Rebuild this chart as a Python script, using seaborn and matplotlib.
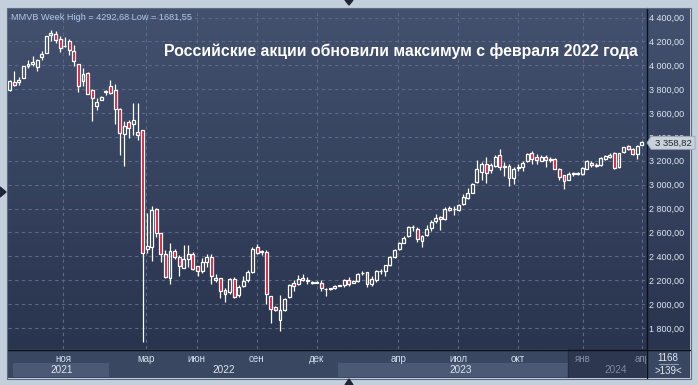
import numpy as np
import pandas as pd
import matplotlib
matplotlib.use('Agg')
import matplotlib.pyplot as plt
from matplotlib.patches import Polygon, Rectangle
from matplotlib.lines import Line2D
from matplotlib.colors import LinearSegmentedColormap
import seaborn as sns

# Weekly MMVB candles (oldest first)
opens = [3793, 3863, 3858, 3897, 3992, 4015, 3987, 4071, 4105, 4256,
         4262, 4217, 4160, 4200, 4121, 4009, 3869, 3939, 3796, 3661,
         3712, 3780, 3830, 3796, 3636, 3426, 3527, 3510, 3443, 3455,
         2463, 2479, 2794, 2592, 2423, 2216, 2446, 2390, 2305, 2381,
         2423, 2317, 2277, 2356, 2390, 2204, 2216, 2120, 2098, 2210,
         2075, 2148, 2199, 2272, 2474, 2443, 2434, 2070, 1977, 1864,
         1949, 2056, 2174, 2169, 2220, 2191, 2180, 2183, 2180, 2126,
         2126, 2135, 2155, 2158, 2203, 2180, 2191, 2256, 2265, 2169,
         2197, 2274, 2276, 2327, 2394, 2462, 2515, 2566, 2641, 2630,
         2532, 2582, 2633, 2692, 2729, 2712, 2802, 2794, 2791, 2839,
         2890, 2932, 3022, 3110, 3177, 3124, 3158, 3248, 3149, 3158,
         3059, 3141, 3145, 3196, 3268, 3229, 3201, 3235, 3210, 3218,
         3134, 3078, 3042, 3090, 3092, 3092, 3134, 3184, 3160, 3162,
         3218, 3232, 3262, 3148, 3272, 3324, 3296, 3260, 3336]
highs = [3880, 3948, 3906, 3995, 4043, 4082, 4049, 4116, 4248, 4292.68,
         4285, 4245, 4239, 4222, 4166, 4015, 3981, 3942, 3799, 3723,
         3740, 3790, 3880, 3841, 3640, 3532, 3538, 3687, 3687, 3460,
         2760, 2822, 2802, 2592, 2451, 2513, 2465, 2409, 2493, 2493,
         2434, 2320, 2384, 2423, 2423, 2255, 2216, 2137, 2216, 2227,
         2157, 2233, 2289, 2474, 2499, 2451, 2451, 2070, 1980, 2079,
         2050, 2169, 2197, 2239, 2253, 2225, 2191, 2191, 2197, 2135,
         2138, 2158, 2163, 2211, 2225, 2197, 2259, 2276, 2270, 2231,
         2287, 2296, 2324, 2400, 2458, 2520, 2571, 2656, 2664, 2644,
         2580, 2664, 2707, 2757, 2740, 2814, 2825, 2819, 2842, 2918,
         2974, 3011, 3208, 3186, 3228, 3180, 3248, 3299, 3186, 3172,
         3144, 3172, 3196, 3263, 3280, 3260, 3246, 3246, 3229, 3224,
         3140, 3078, 3106, 3106, 3103, 3148, 3204, 3196, 3184, 3229,
         3246, 3268, 3270, 3268, 3319, 3330, 3308, 3330, 3362]
lows = [3785, 3826, 3833, 3892, 3981, 3998, 3953, 4043, 4099, 4206,
        4189, 4110, 4155, 4088, 3992, 3776, 3827, 3757, 3532, 3622,
        3709, 3751, 3757, 3504, 3252, 3154, 3392, 3420, 3370, 1681.55,
        2430, 2362, 2558, 2350, 2221, 2171, 2373, 2238, 2305, 2311,
        2283, 2238, 2261, 2311, 2165, 2185, 2053, 2017, 2087, 2053,
        2059, 2143, 2188, 2261, 2418, 2409, 2003, 1840, 1943, 1774,
        1943, 2050, 2112, 2163, 2191, 2169, 2169, 2174, 2107, 2067,
        2120, 2126, 2150, 2141, 2155, 2174, 2183, 2242, 2141, 2155,
        2183, 2253, 2231, 2321, 2388, 2455, 2510, 2560, 2608, 2523,
        2481, 2571, 2608, 2678, 2622, 2706, 2777, 2746, 2780, 2833,
        2881, 2926, 3017, 3039, 3017, 3101, 3152, 3124, 3073, 2988,
        3008, 3115, 3114, 3190, 3176, 3176, 3196, 3148, 3190, 3134,
        3036, 2960, 3036, 3072, 3081, 3078, 3128, 3148, 3145, 3156,
        3210, 3224, 3134, 3140, 3263, 3290, 3246, 3218, 3330]
closes = [3869, 3838, 3875, 3992, 4015, 4026, 4043, 4093, 4245, 4273,
          4211, 4144, 4165, 4127, 4032, 3827, 3925, 3762, 3723, 3695,
          3737, 3784, 3768, 3631, 3434, 3490, 3476, 3544, 3415, 2430,
          2485, 2788, 2592, 2423, 2227, 2446, 2390, 2322, 2373, 2418,
          2294, 2277, 2350, 2390, 2233, 2221, 2109, 2087, 2210, 2059,
          2143, 2193, 2266, 2465, 2429, 2437, 2087, 1960, 1949, 1949,
          2042, 2163, 2152, 2211, 2203, 2203, 2186, 2178, 2135, 2129,
          2135, 2155, 2158, 2197, 2169, 2191, 2248, 2259, 2169, 2211,
          2276, 2278, 2324, 2394, 2451, 2513, 2554, 2644, 2647, 2543,
          2566, 2627, 2687, 2718, 2715, 2797, 2791, 2797, 2831, 2898,
          2926, 3008, 3135, 3169, 3101, 3163, 3228, 3152, 3155, 3059,
          3129, 3144, 3184, 3257, 3218, 3204, 3235, 3204, 3213, 3134,
          3064, 3033, 3092, 3094, 3094, 3140, 3196, 3162, 3165, 3224,
          3240, 3252, 3140, 3262, 3314, 3302, 3257, 3324, 3358.82]

month_pos = [11.7, 29.8, 40.8, 53.9, 67.0, 84.8, 97.9, 111.0, 125.1, 138.1]
month_labels = ['ноя', 'мар', 'июн', 'сен', 'дек', 'апр', 'июл', 'окт', 'янв', 'апр']
year_labels = ['2021', '2022', '2023', '2024']
year_pos = [11.4, 46.8, 98.5, 132.2]
light_bands = [(0.7, 21.7), (71.7, 121.9)]
dim_start = 121.9
price_ticks = list(range(1800, 4401, 200))
title = 'Российские акции обновили максимум с февраля 2022 года'
info = 'MMVB Week High = 4292,68 Low = 1681,55'
bars_total = '1168'
bars_shown = '>139<'

sns.set_style('dark')
plt.rcParams['font.family'] = ['Liberation Sans', 'DejaVu Sans']

W, H = 698, 385
fig = plt.figure(figsize=(W / 100, H / 100), dpi=100, facecolor='#c4cfdc')


def box(x0, y0, x1, y1):
    # pixel box (top-left origin) -> figure rect
    return [x0 / W, 1 - y1 / H, (x1 - x0) / W, (y1 - y0) / H]


# gradient background behind plot and price scale
bg = fig.add_axes(box(8, 8, 690, 349), zorder=0)
cmap = LinearSegmentedColormap.from_list('panel', ['#29344e', '#43516f'])
bg.imshow(np.linspace(0, 1, 256).reshape(-1, 1)[::-1], aspect='auto',
          cmap=cmap, extent=[0, 1, 0, 1])
bg.axis('off')

ax = fig.add_axes(box(8, 8, 646, 349), zorder=1)
ax.patch.set_alpha(0)

df = pd.DataFrame({'open': opens, 'high': highs, 'low': lows, 'close': closes})
df['idx'] = np.arange(len(df))
df['top'] = df[['open', 'close']].max(axis=1)
df['bot'] = df[['open', 'close']].min(axis=1)
up = df['close'] >= df['open']

ax.vlines(df['idx'], df['top'], df['high'], color='white', lw=0.9, zorder=2)
ax.vlines(df['idx'], df['low'], df['bot'], color='white', lw=0.9, zorder=2)
ax.bar(df['idx'][up], (df['top'] - df['bot'])[up], bottom=df['bot'][up],
       width=0.64, facecolor='none', edgecolor='white', lw=0.9, zorder=3)
ax.bar(df['idx'][~up], (df['top'] - df['bot'])[~up], bottom=df['bot'][~up],
       width=0.64, facecolor='#e4102d', edgecolor='white', lw=0.9, zorder=3)

ax.set_xlim(-0.37, 138.9)
ax.set_ylim(1623, 4480)
ax.set_xticks(month_pos)
ax.set_xticklabels([])
ax.set_yticks(price_ticks)
ax.set_yticklabels([f'{v:,.2f}'.replace(',', ' ').replace('.', ',') for v in price_ticks])
ax.yaxis.tick_right()
ax.tick_params(axis='y', length=0, pad=2.2, labelsize=6.5, labelcolor='#dde6f0')
ax.tick_params(axis='x', length=0)
ax.grid(True, color='#5b6985', lw=0.8, linestyle=(0, (3, 3)))
for s in ax.spines.values():
    s.set_visible(False)

ax.text(0.004, 0.985, info, transform=ax.transAxes, ha='left', va='top',
        fontsize=6.6, color='#aec8ea')
ax.text(0.988, 0.875, title, transform=ax.transAxes, ha='right', va='center',
        fontsize=11.4, fontweight='bold', color='white')

# bottom time strip
strip = fig.add_axes(box(8, 349, 646, 378), zorder=1)
strip.set_facecolor('#3a4761')
strip.set_xlim(ax.get_xlim())
strip.set_ylim(0, 1)
for a, b in light_bands:
    strip.axvspan(a, b, ymin=0.034, ymax=0.517, color='#4b5975', lw=0)
strip.axvspan(dim_start, 140, color='#2d3850', lw=0)
strip.axvline(dim_start, color='#252e44', lw=1)
for p, lab in zip(month_pos, month_labels):
    c = '#7f8ca3' if p > dim_start else '#d3deee'
    strip.text(p, 0.67, lab, ha='center', va='center', fontsize=7, color=c, clip_on=True)
for p, lab in zip(year_pos, year_labels):
    c = '#7a879e' if p > dim_start else '#dde6f0'
    strip.text(p, 0.27, lab, ha='center', va='center', fontsize=7.2, color=c, clip_on=True)
strip.set_xticks([])
strip.set_yticks([])
for s in strip.spines.values():
    s.set_visible(False)

side = fig.add_axes(box(646, 349, 690, 378), zorder=1)
side.set_facecolor('#3a4761')
side.set_xlim(0, 1)
side.set_ylim(0, 1)
side.text(0.5, 0.69, bars_total, ha='center', va='center', fontsize=7, color='#e2e9f2')
side.plot([0.3, 0.72], [0.49, 0.49], color='#8c98ad', lw=0.8)
side.text(0.5, 0.25, bars_shown, ha='center', va='center', fontsize=7, color='#e2e9f2')
side.set_xticks([])
side.set_yticks([])
for s in side.spines.values():
    s.set_visible(False)


# separators and frame
def px_line(xs, ys, color, lw=1.0):
    fig.add_artist(Line2D([x / W for x in xs], [1 - y / H for y in ys],
                          transform=fig.transFigure, color=color, lw=lw, zorder=5))


px_line([646.5, 646.5], [8, 378], '#0b0f18')
px_line([8, 690], [349.5, 349.5], '#0b0f18')
fig.add_artist(Rectangle((7.5 / W, 1 - 378.5 / H), 683 / W, 371 / H, transform=fig.transFigure,
                         fill=False, edgecolor='#5d6b84', lw=0.8, zorder=5))

# current price marker on the scale
fig.canvas.draw()
last = closes[-1]
py = ax.transData.transform((0, last))[1] - 1
px0 = 647
pts = [(px0, py), (px0 + 4, py + 6.5), (px0 + 48, py + 6.5), (px0 + 48, py - 6.5), (px0 + 4, py - 6.5)]
fig.add_artist(Polygon([(x / W, y / H) for x, y in pts], closed=True, transform=fig.transFigure,
                       facecolor='#c9d1da', edgecolor='#9aa4b2', lw=0.6, zorder=6))
fig.text((px0 + 26) / W, py / H, f'{last:,.2f}'.replace(',', ' ').replace('.', ','),
         ha='center', va='center', fontsize=6.8, color='#1e2633', zorder=7)

# small scroll arrows on the window edges
tri = '#1f2535'
for pts in ([(345, 0), (353, 0), (349, 5)],
            [(0, 187), (0, 197), (6, 192)],
            [(345, 385), (353, 385), (349, 379)]):
    fig.add_artist(Polygon([(x / W, 1 - y / H) for x, y in pts], closed=True,
                           transform=fig.transFigure, color=tri, zorder=6))

fig.savefig('out.png', dpi=100, facecolor=fig.get_facecolor())
